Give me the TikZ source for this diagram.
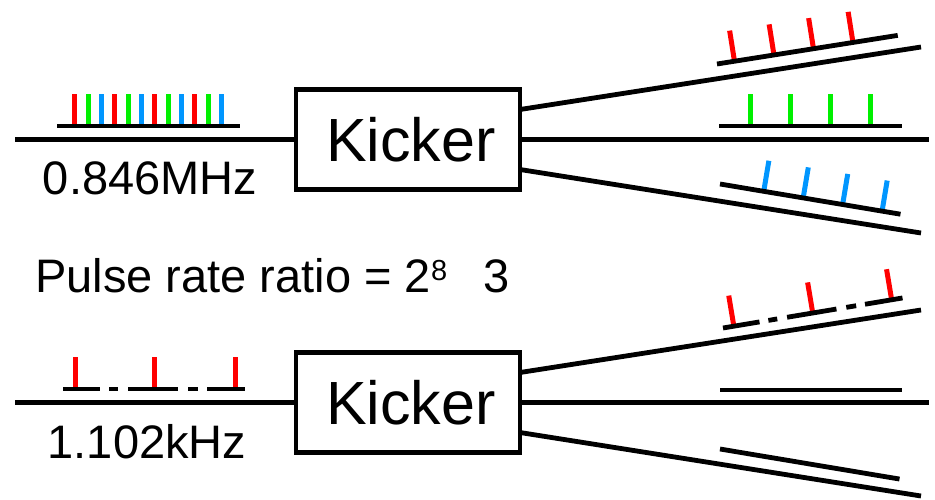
\documentclass[tikz,border=0pt]{standalone}
\usepackage{fontspec}
\setmainfont{Liberation Sans}
\definecolor{pr}{RGB}{255,0,0}
\definecolor{pg}{RGB}{0,240,0}
\definecolor{pb}{RGB}{0,150,255}
\begin{document}
\begin{tikzpicture}[x=1pt,y=-1pt,
  beam/.style={line width=4.8pt},
  bunchline/.style={line width=4.8pt},
  pulse/.style={line width=5pt},
  kickbox/.style={draw,line width=4.8pt,minimum width=224pt,minimum height=99.5pt,inner sep=0pt},
  kicktext/.style={inner sep=0pt,font=\fontsize{61}{61}\selectfont},
  lbl/.style={inner sep=0pt,anchor=base,font=\fontsize{47}{47}\selectfont}]
\useasboundingbox (0,0) rectangle (935,499);

% ---------- top: kicker with 0.846 MHz ----------
\node[kickbox] (k1) at (408,139.5) {};
\node[kicktext] (k1t) at (411,139.5) {Kicker};
\coordinate (in1) at (15,139.5);
\coordinate (o1a) at (921,47);
\coordinate (o1b) at (929,139.5);
\coordinate (o1c) at (921,233);
\draw[beam] (in1) -- (k1.west);
\draw[beam] ([xshift=-2.4pt,yshift=30pt]k1.east) -- (o1a);
\draw[beam] ([xshift=-2.4pt]k1.east) -- (o1b);
\draw[beam] ([xshift=-2.4pt,yshift=-30pt]k1.east) -- (o1c);
\node[lbl] (f1) at (150,194) {0.846MHz};

% input bunch train
\begin{scope}[shift={(57,126)}]
  \foreach \i/\c in {0/pr,1/pg,2/pb,3/pr,4/pg,5/pb,6/pr,7/pg,8/pb,9/pr,10/pg,11/pb}
    \draw[pulse,\c] (17.7+13.33*\i,0) -- (17.7+13.33*\i,-32);
  \draw[bunchline] (0,0) -- (183,0);
\end{scope}
% output: red (upper)
\begin{scope}[shift={(717,64)},rotate=9]
  \foreach \i in {0,3,6,9}
    \draw[pulse,pr] (17.7+13.33*\i,0) -- (17.7+13.33*\i,-31);
  \draw[bunchline] (0,0) -- (183,0);
\end{scope}
% output: green (middle)
\begin{scope}[shift={(719,126)}]
  \foreach \i in {1,4,7,10}
    \draw[pulse,pg] (17.7+13.33*\i,0) -- (17.7+13.33*\i,-32);
  \draw[bunchline] (0,0) -- (183,0);
\end{scope}
% output: blue (lower)
\begin{scope}[shift={(720,184)},rotate=-9.5]
  \foreach \i in {2,5,8,11}
    \draw[pulse,pb] (17.7+13.33*\i,0) -- (17.7+13.33*\i,-31);
  \draw[bunchline] (0,0) -- (183,0);
\end{scope}

% ---------- ratio text ----------
\node[inner sep=0pt,anchor=base west,font=\fontsize{47}{47}\selectfont] (ratio) at (35,292)
  {Pulse rate ratio = 2\raisebox{12pt}{\fontsize{29}{29}\selectfont 8}\hspace{36pt}3};

% ---------- bottom: kicker with 1.102 kHz ----------
\node[kickbox] (k2) at (408,402.5) {};
\node[kicktext] (k2t) at (411,402.5) {Kicker};
\coordinate (in2) at (15,402.5);
\coordinate (o2a) at (921,310);
\coordinate (o2b) at (929,402.5);
\coordinate (o2c) at (921,496);
\draw[beam] (in2) -- (k2.west);
\draw[beam] ([xshift=-2.4pt,yshift=30pt]k2.east) -- (o2a);
\draw[beam] ([xshift=-2.4pt]k2.east) -- (o2b);
\draw[beam] ([xshift=-2.4pt,yshift=-30pt]k2.east) -- (o2c);
\node[lbl] (f2) at (147,458) {1.102kHz};

% input sparse train (dash-dot)
\begin{scope}[shift={(63,389)}]
  \foreach \t in {12,91,172}
    \draw[pulse,pr] (\t,0) -- (\t,-32);
  \foreach \a/\b in {0/37,46/55,65/115,125/135,144/182}
    \draw[bunchline] (\a,0) -- (\b,0);
\end{scope}
% output upper sparse train
\begin{scope}[shift={(723,328)},rotate=9.5]
  \foreach \t in {11,91,171}
    \draw[pulse,pr] (\t,0) -- (\t,-31);
  \foreach \a/\b in {0/37,46/55,65/115,125/135,144/182}
    \draw[bunchline] (\a,0) -- (\b,0);
\end{scope}
% output middle (empty)
\begin{scope}[shift={(720,390)}]
  \draw[bunchline] (0,0) -- (182,0);
\end{scope}
% output lower (empty)
\begin{scope}[shift={(720,449)},rotate=-9.5]
  \draw[bunchline] (0,0) -- (182,0);
\end{scope}
\end{tikzpicture}
\end{document}
